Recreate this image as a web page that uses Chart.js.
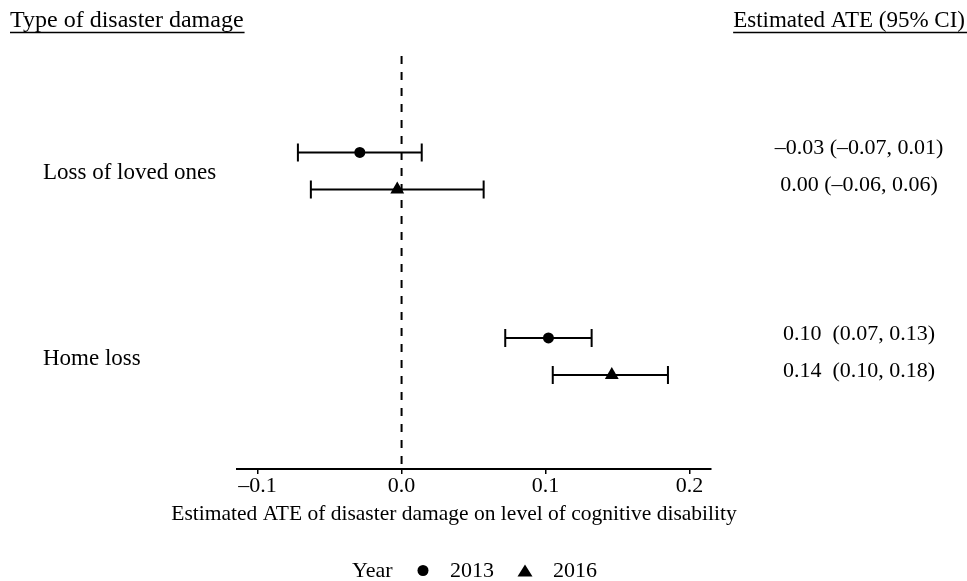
<!DOCTYPE html>
<html>
<head>
<meta charset="utf-8">
<script src="https://cdn.jsdelivr.net/npm/chart.js@4.4.1/dist/chart.umd.min.js"></script>
<style>
  html, body { margin: 0; padding: 0; background: #fff; }
  #wrap { width: 967px; height: 581px; position: relative; }
</style>
</head>
<body>
<div id="wrap"><canvas id="chart"></canvas></div>
<script>
const categories = ['Loss of loved ones', 'Home loss'];
const years = ['2013', '2016'];
const est2013 = [-0.029, 0.102];
const low2013 = [-0.072, 0.072];
const high2013 = [0.014, 0.132];
const est2016 = [-0.003, 0.146];
const low2016 = [-0.063, 0.105];
const high2016 = [0.057, 0.185];
const ateText2013 = ['–0.03 (–0.07, 0.01)', '0.10  (0.07, 0.13)'];
const ateText2016 = ['0.00 (–0.06, 0.06)', '0.14  (0.10, 0.18)'];
const xTicks = [-0.1, 0.0, 0.1, 0.2];
const xTitle = 'Estimated ATE of disaster damage on level of cognitive disability';

const FONT = "'Liberation Serif', 'Times New Roman', serif";
const yearShift = [-0.1, 0.1]; // row offset of each year inside a category

function rows(est, low, high, shift, labels) {
  return est.map((v, i) => ({ x: v, y: i + 1 + shift, lo: low[i], hi: high[i], txt: labels[i] }));
}

// zero line + CI whiskers, under the points
const errorBars = {
  id: 'errorBars',
  beforeDatasetsDraw(chart) {
    const { ctx, chartArea, scales: { x, y } } = chart;
    ctx.save();
    ctx.strokeStyle = '#000';
    ctx.lineWidth = 2;
    ctx.setLineDash([8, 8]);
    const x0 = x.getPixelForValue(0);
    ctx.beginPath();
    ctx.moveTo(x0, chartArea.top - 1);
    ctx.lineTo(x0, chartArea.bottom);
    ctx.stroke();
    ctx.setLineDash([]);
    chart.data.datasets.forEach(ds => ds.data.forEach(p => {
      const py = y.getPixelForValue(p.y);
      const a = x.getPixelForValue(p.lo), b = x.getPixelForValue(p.hi);
      ctx.beginPath();
      ctx.moveTo(a, py); ctx.lineTo(b, py);
      ctx.moveTo(a, py - 9); ctx.lineTo(a, py + 9);
      ctx.moveTo(b, py - 9); ctx.lineTo(b, py + 9);
      ctx.stroke();
    }));
    ctx.restore();
  }
};

// headers, row labels, ATE text, axis title and the legend
const sideText = {
  id: 'sideText',
  afterDraw(chart) {
    const { ctx, scales: { y } } = chart;
    ctx.save();
    ctx.fillStyle = '#000';
    ctx.strokeStyle = '#000';
    ctx.lineWidth = 1.5;

    ctx.textBaseline = 'alphabetic';
    ctx.textAlign = 'left';
    ctx.font = '24px ' + FONT;
    const h1 = 'Type of disaster damage';
    ctx.fillText(h1, 10, 27);
    ctx.beginPath();
    ctx.moveTo(10, 32.5); ctx.lineTo(11 + ctx.measureText(h1).width, 32.5);
    ctx.stroke();

    ctx.font = '23px ' + FONT;
    ctx.textAlign = 'right';
    const h2 = 'Estimated ATE (95% CI)';
    ctx.fillText(h2, 965, 27);
    ctx.beginPath();
    ctx.moveTo(965 - ctx.measureText(h2).width, 32.5); ctx.lineTo(967, 32.5);
    ctx.stroke();

    ctx.textBaseline = 'middle';
    ctx.textAlign = 'left';
    categories.forEach((c, i) => ctx.fillText(c, 43, y.getPixelForValue(i + 1) + 2));

    ctx.font = '22px ' + FONT;
    ctx.textAlign = 'center';
    chart.data.datasets.forEach(ds => ds.data.forEach(p => {
      ctx.fillText(p.txt, 859, y.getPixelForValue(p.y) - 4);
    }));

    // x axis title, wider than the plot area
    ctx.font = '21.5px ' + FONT;
    ctx.fillText(xTitle, 454, 514);

    // legend
    ctx.font = '22px ' + FONT;
    ctx.textAlign = 'left';
    ctx.textBaseline = 'alphabetic';
    ctx.fillText('Year', 352, 577);
    ctx.fillText(years[0], 450, 577);
    ctx.fillText(years[1], 553, 577);
    ctx.beginPath();
    ctx.arc(423, 570.5, 5.5, 0, Math.PI * 2);
    ctx.fill();
    ctx.beginPath();
    ctx.moveTo(525, 564.5); ctx.lineTo(532.5, 576.5); ctx.lineTo(517.5, 576.5); ctx.closePath();
    ctx.fill();
    ctx.restore();
  }
};

new Chart(document.getElementById('chart'), {
  type: 'scatter',
  data: {
    datasets: [
      {
        label: years[0],
        data: rows(est2013, low2013, high2013, yearShift[0], ateText2013),
        pointStyle: 'circle',
        pointRadius: 5.5,
        backgroundColor: '#000',
        borderColor: '#000',
        borderWidth: 0
      },
      {
        label: years[1],
        data: rows(est2016, low2016, high2016, yearShift[1], ateText2016),
        pointStyle: 'triangle',
        pointRadius: 8,
        backgroundColor: '#000',
        borderColor: '#000',
        borderWidth: 0
      }
    ]
  },
  options: {
    responsive: true,
    maintainAspectRatio: false,
    animation: false,
    events: [],
    layout: { padding: { left: 237, right: 256, top: 57, bottom: 0 } },
    plugins: { legend: { display: false }, tooltip: { enabled: false } },
    scales: {
      x: {
        type: 'linear',
        min: -0.1143,
        max: 0.2149,
        afterBuildTicks: s => { s.ticks = xTicks.map(v => ({ value: v })); },
        afterFit: s => { s.height = 112; },
        grid: { display: true, drawOnChartArea: false, drawTicks: true, tickLength: 5, color: '#000', lineWidth: 1.5 },
        border: { display: true, color: '#000', width: 2 },
        ticks: {
          color: '#000',
          padding: 1,
          font: { family: FONT, size: 22, lineHeight: 1 },
          callback: v => (v < 0 ? '–' + Math.abs(v).toFixed(1) : v.toFixed(1))
        },
        title: { display: false }
      },
      y: {
        type: 'linear',
        display: false,
        reverse: true,
        min: 0.386,
        max: 2.606
      }
    }
  },
  plugins: [errorBars, sideText]
});
</script>
</body>
</html>
